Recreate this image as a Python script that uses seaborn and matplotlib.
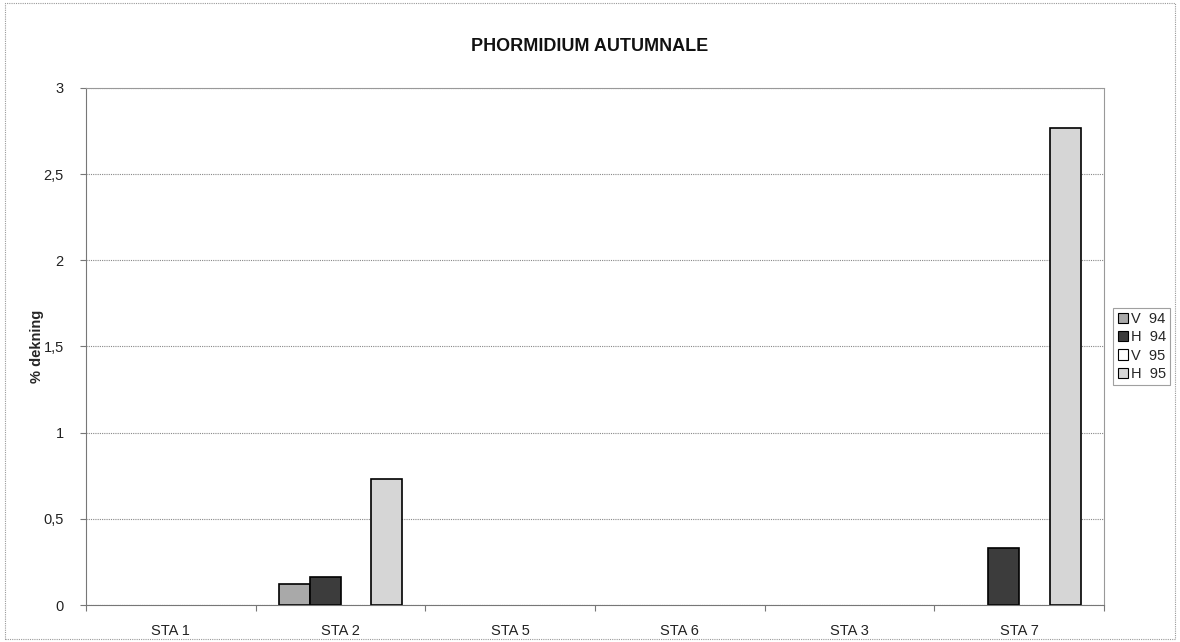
import numpy as np
import pandas as pd
import matplotlib
matplotlib.use("Agg")
import matplotlib.pyplot as plt
import seaborn as sns
from matplotlib.ticker import FuncFormatter, FixedLocator

stations = ["STA 1", "STA 2", "STA 5", "STA 6", "STA 3", "STA 7"]
series = ["V  94", "H  94", "V  95", "H  95"]
v94 = [0, 0.12, 0, 0, 0, 0]
h94 = [0, 0.16, 0, 0, 0, 0.33]
v95 = [0, 0, 0, 0, 0, 0]
h95 = [0, 0.73, 0, 0, 0, 2.77]
colors = ["#a9a9a9", "#3c3c3c", "#ffffff", "#d6d6d6"]

rows = []
for s, vals in zip(series, [v94, h94, v95, h95]):
    for st, v in zip(stations, vals):
        rows.append({"station": st, "series": s, "value": v})
df = pd.DataFrame(rows)

sns.set_theme(style="white")
plt.rcParams["font.family"] = ["Liberation Sans", "DejaVu Sans"]

fig = plt.figure(figsize=(11.8, 6.42), dpi=100)
ax = fig.add_axes([0.0729, 0.0576, 0.8627, 0.8054])

sns.barplot(data=df, x="station", y="value", hue="series", order=stations,
            hue_order=series, palette=colors, width=0.73, edgecolor="black",
            linewidth=1.2, ax=ax, legend=True)

for p in ax.patches:
    if p.get_height() == 0:
        p.set_linewidth(0)

ax.set_ylim(0, 3)
ax.set_xlim(-0.5, 5.5)
ax.set_yticks([0, 0.5, 1, 1.5, 2, 2.5, 3])
ax.yaxis.set_major_formatter(FuncFormatter(lambda v, p: ("%g" % v).replace(".", ",")))
ax.grid(axis="y", color="#888888", linestyle=(0, (1, 1)), linewidth=0.8)
ax.set_axisbelow(True)
for side in ["top", "right"]:
    ax.spines[side].set_color("#999999")
    ax.spines[side].set_linestyle((0, (1, 1)))
    ax.spines[side].set_linewidth(0.8)
ax.spines["left"].set_color("#777777")
ax.spines["bottom"].set_color("#777777")
ax.spines["left"].set_linewidth(0.8)
ax.spines["bottom"].set_linewidth(0.8)

ax.tick_params(axis="y", which="major", left=True, length=4, width=0.8,
               color="#777777", labelsize=10.5, pad=12, labelcolor="#222222")
ax.tick_params(axis="x", which="major", bottom=False, labelsize=10.5, pad=8,
               labelcolor="#222222")
ax.xaxis.set_minor_locator(FixedLocator(np.arange(-0.5, 6, 1)))
ax.tick_params(axis="x", which="minor", bottom=True, length=4, width=0.8,
               color="#777777")

ax.set_xlabel("")
ax.set_ylabel("% dekning", fontsize=10.5, fontweight="bold")
ax.yaxis.set_label_coords(-0.041, 0.5)
fig.text(0.5, 0.927, "PHORMIDIUM AUTUMNALE", ha="center", va="center",
         fontsize=13, fontweight="bold", color="#111111")

leg = ax.legend(loc="center left", bbox_to_anchor=(1.009, 0.5), frameon=True,
                fontsize=10.5, handlelength=0.7, handleheight=0.7,
                handletextpad=0.2, borderpad=0.3, labelspacing=0.3,
                borderaxespad=0, fancybox=False)
leg.get_frame().set_edgecolor("#888888")
leg.get_frame().set_linewidth(0.8)
for h in leg.legend_handles:
    h.set_linewidth(0.8)
    h.set_edgecolor("black")

rect = plt.Rectangle((0.004, 0.004), 0.992, 0.992, transform=fig.transFigure,
                     fill=False, edgecolor="#999999", linestyle=(0, (1, 1)),
                     linewidth=0.8)
fig.patches.append(rect)

fig.savefig("out.png", dpi=100)
